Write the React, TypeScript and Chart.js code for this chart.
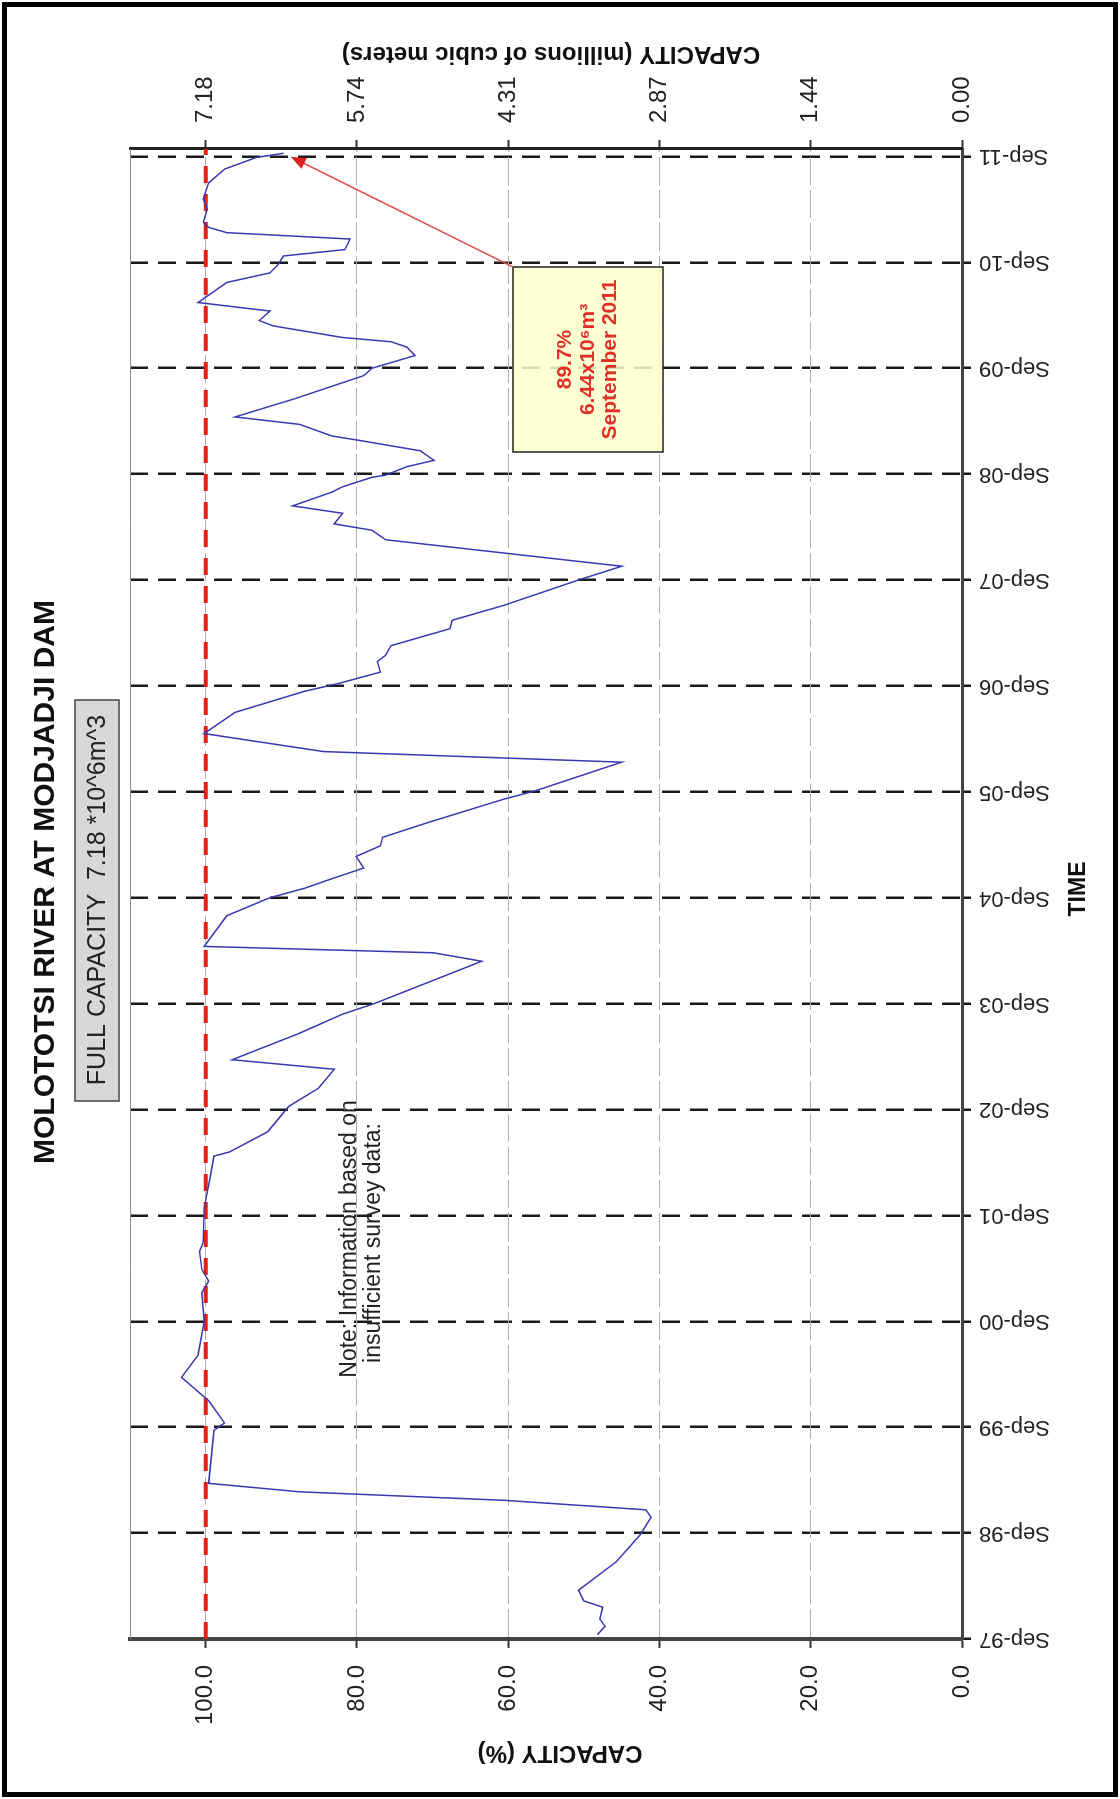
import React, { useEffect, useRef } from 'react';
import { Chart, registerables } from 'chart.js';

Chart.register(...registerables);

// ---- data ----
const TITLE = 'MOLOTOTSI RIVER AT MODJADJI DAM';
const FULL_CAPACITY_TEXT = 'FULL CAPACITY  7.18 *10^6m^3';
const NOTE_LINES = ['Note: Information based on', 'insufficient survey data:'];
const ANNOTATION_LINES = ['89.7%', '6.44x10\u2076m\u00B3', 'September 2011'];

const TIME_TICKS = [1997.67, 1998.67, 1999.67, 2000.67, 2001.67, 2002.67, 2003.67, 2004.67, 2005.67, 2006.67, 2007.67, 2008.67, 2009.67, 2010.67, 2011.67];
const TIME_LABELS = ['Sep-97', 'Sep-98', 'Sep-99', 'Sep-00', 'Sep-01', 'Sep-02', 'Sep-03', 'Sep-04', 'Sep-05', 'Sep-06', 'Sep-07', 'Sep-08', 'Sep-09', 'Sep-10', 'Sep-11'];
const PCT_TICKS = [0, 20, 40, 60, 80, 100];
const VOL_TICKS = [0, 1.436, 2.872, 4.308, 5.744, 7.18];
const FULL_PCT = 100;

const YEARS = [
  1997.71, 1997.79, 1997.86, 1997.97, 1998.03, 1998.13, 1998.40, 1998.65, 1998.82, 1998.89,
  1998.98, 1999.06, 1999.14, 1999.64, 1999.71, 1999.92, 2000.14, 2000.35, 2000.67, 2000.94,
  2001.05, 2001.16, 2001.33, 2001.42, 2001.74, 2001.96, 2002.23, 2002.27, 2002.46, 2002.70,
  2002.87, 2003.05, 2003.14, 2003.39, 2003.57, 2003.67, 2004.07, 2004.15, 2004.21, 2004.50,
  2004.67, 2004.76, 2004.85, 2004.95, 2005.06, 2005.16, 2005.24, 2005.38, 2005.60, 2005.68,
  2005.95, 2006.05, 2006.22, 2006.42, 2006.62, 2006.69, 2006.80, 2006.90, 2006.96, 2007.05,
  2007.21, 2007.29, 2007.43, 2007.67, 2007.80, 2008.05, 2008.14, 2008.20, 2008.30, 2008.37,
  2008.50, 2008.55, 2008.64, 2008.66, 2008.74, 2008.80, 2008.89, 2008.99, 2009.03, 2009.14,
  2009.21, 2009.38, 2009.60, 2009.67, 2009.79, 2009.87, 2009.92, 2009.96, 2010.07, 2010.12,
  2010.21, 2010.29, 2010.48, 2010.57, 2010.65, 2010.73, 2010.79, 2010.89, 2010.95, 2011.00,
  2011.05, 2011.17, 2011.27, 2011.42, 2011.55, 2011.66, 2011.70,
];
const CAPACITY = [
  48.2, 47.2, 47.9, 47.5, 50.0, 50.7, 45.7, 42.6, 41.1, 41.8,
  60.6, 87.6, 99.6, 98.9, 97.5, 99.6, 103.2, 101.0, 100.2, 100.5,
  99.6, 100.5, 100.8, 100.3, 100.2, 99.6, 98.9, 96.8, 91.8, 89.0,
  85.1, 83.0, 96.5, 87.6, 81.9, 77.7, 63.5, 69.9, 100.2, 97.2,
  91.5, 86.9, 83.3, 79.1, 80.1, 76.9, 76.6, 70.6, 60.6, 56.4,
  45.0, 84.4, 100.2, 96.1, 86.9, 82.6, 76.9, 77.3, 76.2, 75.5,
  67.7, 67.4, 60.6, 50.7, 45.0, 76.2, 78.0, 83.0, 81.9, 88.5,
  83.3, 81.9, 78.0, 76.2, 73.4, 69.8, 71.6, 79.8, 83.3, 87.6,
  96.1, 88.3, 79.1, 78.0, 72.3, 73.4, 75.5, 81.9, 91.1, 92.9,
  91.5, 101.0, 97.2, 91.5, 90.4, 89.7, 81.6, 80.9, 97.2, 99.6,
  100.3, 99.8, 100.3, 99.6, 97.5, 93.3, 89.7,
];

const X_MIN = 1997.67;
const X_MAX = 2011.74;

// ---- layout (landscape canvas, rotated -90deg onto the page) ----
const W = 1799;
const H = 1120;
const FONT = '"Liberation Sans", Arial, Helvetica, sans-serif';

function rotatedText(ctx: CanvasRenderingContext2D, text: string, x: number, y: number) {
  ctx.save();
  ctx.translate(x, y);
  ctx.rotate(-Math.PI / 2);
  ctx.fillText(text, 0, 0);
  ctx.restore();
}

const overlay = {
  id: 'overlay',
  afterDraw(chart: any) {
    const ctx: CanvasRenderingContext2D = chart.ctx;
    const { left, right, top } = chart.chartArea;
    const xs = chart.scales.x;
    const ys = chart.scales.y;
    ctx.save();

    // thin frame side of the plot (original top)
    ctx.strokeStyle = '#8a8a8a';
    ctx.lineWidth = 1;
    ctx.beginPath();
    ctx.moveTo(left, top + 0.5);
    ctx.lineTo(right, top + 0.5);
    ctx.stroke();

    // outer frame
    ctx.strokeStyle = '#000';
    ctx.lineWidth = 5;
    ctx.strokeRect(4.5, 4.5, W - 9, H - 9);

    // title
    ctx.fillStyle = '#111';
    ctx.textAlign = 'center';
    ctx.textBaseline = 'middle';
    ctx.font = 'bold 30px ' + FONT;
    ctx.fillText(TITLE, 917, 46);

    // full capacity box
    ctx.fillStyle = '#d8d8d8';
    ctx.fillRect(698, 75, 401, 44);
    ctx.strokeStyle = '#444';
    ctx.lineWidth = 1.5;
    ctx.strokeRect(698, 75, 401, 44);
    ctx.fillStyle = '#222';
    ctx.font = '25px ' + FONT;
    ctx.fillText(FULL_CAPACITY_TEXT, 899, 98);

    // axis titles
    ctx.font = 'bold 24px ' + FONT;
    ctx.fillStyle = '#111';
    rotatedText(ctx, 'CAPACITY (%)', 46, 560);
    rotatedText(ctx, 'CAPACITY (millions of cubic meters)', 1745, 551);
    ctx.font = 'bold 23px ' + FONT;
    ctx.fillText('TIME', 910, 1079);

    // note
    ctx.font = '23px ' + FONT;
    ctx.fillStyle = '#222';
    ctx.fillText(NOTE_LINES[0], 560, 350);
    ctx.fillText(NOTE_LINES[1], 556, 374);

    // annotation box
    const bx = 1347, by = 513, bw = 185, bh = 150;
    ctx.fillStyle = 'rgba(255,255,204,0.85)';
    ctx.fillRect(bx, by, bw, bh);
    ctx.strokeStyle = '#222';
    ctx.lineWidth = 1.5;
    ctx.strokeRect(bx, by, bw, bh);
    ctx.fillStyle = '#e0302a';
    ctx.font = 'bold 21px ' + FONT;
    ctx.fillText(ANNOTATION_LINES[0], bx + bw / 2, 565);
    ctx.fillText(ANNOTATION_LINES[1], bx + bw / 2, 588);
    ctx.fillText(ANNOTATION_LINES[2], bx + bw / 2, 610);

    // arrow to last point
    const lastI = YEARS.length - 1;
    const px = xs.getPixelForValue(YEARS[lastI]);
    const py = ys.getPixelForValue(CAPACITY[lastI]);
    const sx = bx + bw, sy = by;
    const dx = px - sx, dy = py - sy;
    const len = Math.sqrt(dx * dx + dy * dy);
    const ux = dx / len, uy = dy / len;
    const tx = px - ux * 8, ty = py - uy * 8;
    ctx.strokeStyle = '#e25050';
    ctx.lineWidth = 1.6;
    ctx.beginPath();
    ctx.moveTo(sx, sy);
    ctx.lineTo(tx - ux * 10, ty - uy * 10);
    ctx.stroke();
    ctx.fillStyle = '#e02020';
    ctx.beginPath();
    ctx.moveTo(tx, ty);
    ctx.lineTo(tx - ux * 15 - uy * 6, ty - uy * 15 + ux * 6);
    ctx.lineTo(tx - ux * 15 + uy * 6, ty - uy * 15 - ux * 6);
    ctx.closePath();
    ctx.fill();

    ctx.restore();
  },
};

export default function App() {
  const ref = useRef<HTMLCanvasElement>(null);

  useEffect(() => {
    if (!ref.current) return;
    const chart = new Chart(ref.current, {
      type: 'line',
      data: {
        datasets: [
          {
            label: 'Capacity (%)',
            data: YEARS.map((x, i) => ({ x, y: CAPACITY[i] })),
            borderColor: '#3838b0',
            borderWidth: 1.5,
            pointRadius: 0,
            tension: 0,
            yAxisID: 'y',
            order: 1,
          },
          {
            label: 'Full capacity',
            data: [{ x: X_MIN, y: FULL_PCT }, { x: X_MAX, y: FULL_PCT }],
            borderColor: '#e3201b',
            borderWidth: 4,
            borderDash: [17, 11],
            pointRadius: 0,
            yAxisID: 'y',
            order: 2,
          },
        ],
      },
      options: {
        responsive: false,
        animation: false,
        layout: { padding: { top: 130, left: 0, right: 0, bottom: 0 } },
        plugins: { legend: { display: false }, tooltip: { enabled: false }, title: { display: false } },
        scales: {
          x: {
            type: 'linear',
            position: 'bottom',
            min: X_MIN,
            max: X_MAX,
            afterBuildTicks: (scale: any) => {
              scale.ticks = TIME_TICKS.map((v) => ({ value: v }));
            },
            afterFit: (scale: any) => {
              scale.height = 158;
            },
            ticks: {
              autoSkip: false,
              minRotation: 90,
              maxRotation: 90,
              padding: 8,
              color: '#222',
              font: { family: FONT, size: 22 },
              callback: (_v: any, i: number) => TIME_LABELS[i],
            },
            grid: {
              color: '#1a1a1a',
              lineWidth: 2.5,
              tickLength: 9,
              tickColor: '#1a1a1a',
              tickWidth: 2.5,
            },
            border: { display: true, color: '#444', width: 3, dash: [18, 10] },
          },
          y: {
            type: 'linear',
            position: 'left',
            min: 0,
            max: 110,
            afterBuildTicks: (scale: any) => {
              scale.ticks = PCT_TICKS.map((v) => ({ value: v }));
            },
            afterFit: (scale: any) => {
              scale.width = 160;
            },
            ticks: {
              padding: 17,
              color: '#222',
              font: { family: FONT, size: 24 },
              callback: (v: any) => Number(v).toFixed(1),
            },
            grid: {
              color: '#b0b0b0',
              lineWidth: 1,
              tickLength: 9,
              tickColor: '#333',
              tickWidth: 2,
            },
            border: { display: true, color: '#444', width: 4, dash: [28, 5] },
          },
          y2: {
            type: 'linear',
            position: 'right',
            min: 0,
            max: 7.898,
            afterBuildTicks: (scale: any) => {
              scale.ticks = VOL_TICKS.map((v) => ({ value: v }));
            },
            afterFit: (scale: any) => {
              scale.width = 149;
            },
            ticks: {
              padding: 17,
              color: '#222',
              font: { family: FONT, size: 24 },
              callback: (v: any) => Number(v).toFixed(2),
            },
            grid: {
              drawOnChartArea: false,
              tickLength: 9,
              tickColor: '#333',
              tickWidth: 2,
            },
            border: { display: true, color: '#222', width: 3 },
          },
        },
      },
      plugins: [overlay],
    } as any);
    return () => chart.destroy();
  }, []);

  return (
    <div style={{ position: 'absolute', left: 0, top: 0, width: 1120, height: 1799, overflow: 'hidden', background: '#fff' }}>
      <canvas
        ref={ref}
        width={W}
        height={H}
        style={{
          position: 'absolute',
          left: 0,
          top: 0,
          width: W,
          height: H,
          transformOrigin: '0 0',
          transform: 'translateY(1799px) rotate(-90deg)',
        }}
      />
    </div>
  );
}
